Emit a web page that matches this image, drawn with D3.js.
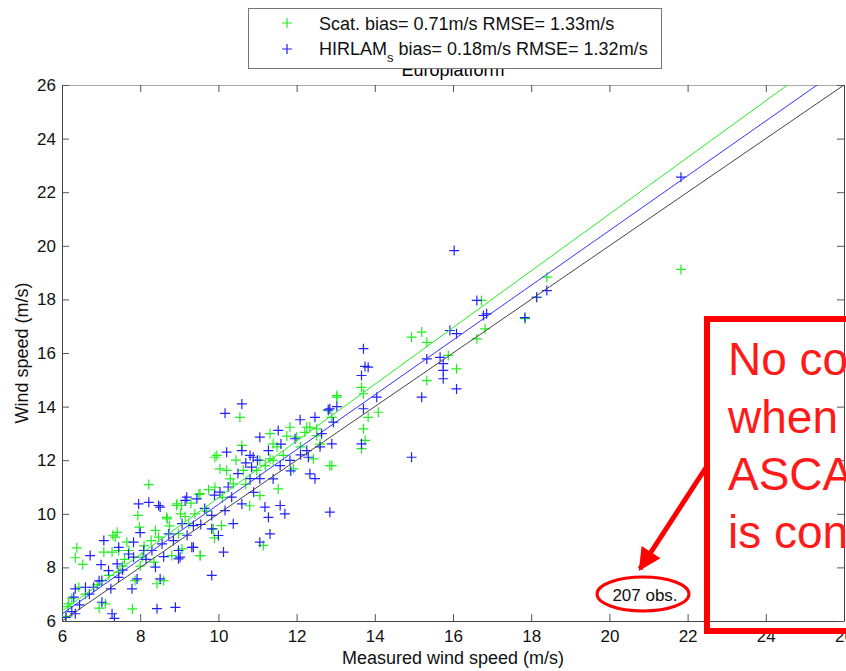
<!DOCTYPE html>
<html>
<head>
<meta charset="utf-8">
<script src="https://cdn.jsdelivr.net/npm/d3@7"></script>
<style>
  body { margin: 0; background: #fff; }
  svg { display: block; font-family: "Liberation Sans", Arial, sans-serif; }
</style>
</head>
<body>
<svg id="chart" width="846" height="671"></svg>
<script>
// data (m/s)
const scatX = [8.22,8.94,9.50,7.94,7.98,7.41,7.36,7.66,8.69,9.03,8.39,8.28,6.38,6.34,6.53,7.07,7.28,7.45,7.71,8.47,
  8.05,8.81,9.07,9.54,9.24,7.45,8.43,7.80,6.43,6.17,7.11,7.87,8.60,8.98,13.03,10.55,12.26,12.51,12.90,11.32,
  11.40,10.60,9.91,11.06,11.32,11.66,11.92,12.43,12.85,10.04,10.21,10.64,10.98,10.38,9.91,9.53,11.06,11.53,9.06,9.40,
  10.08,9.87,11.15,9.53,12.00,16.73,14.94,15.20,15.33,16.82,16.61,17.84,15.88,16.09,15.33,13.03,13.66,13.71,13.83,14.09,
  13.71,13.66,12.90,18.14,21.83,18.40,13.75,12.81,12.34,12.51,12.21,11.83,11.40,8.93,8.68,9.96,6.10,6.15,6.95,
  6.25,6.60,6.90,7.20,7.55,7.60,8.10,8.35,8.75,9.15,9.30,9.70,9.75,10.10,10.30,10.45,10.70,11.20,11.50,11.75,
  12.10,12.60,7.30,8.00,9.90,10.80];
const scatY = [11.09,10.37,10.72,9.94,9.50,9.31,9.13,8.94,9.81,10.00,9.38,9.00,8.73,8.36,8.11,8.57,8.57,8.63,8.63,9.13,
  8.38,8.44,8.69,8.44,9.63,7.82,7.39,6.45,7.26,6.64,6.64,7.51,7.51,9.26,14.41,13.60,13.23,13.17,13.60,12.99,
  12.61,12.55,12.11,11.99,12.05,12.18,11.68,12.05,11.80,11.68,11.62,11.62,11.62,11.12,10.99,10.75,10.68,10.93,10.31,10.00,
  9.56,9.44,8.82,8.44,12.86,17.96,16.59,16.78,16.40,16.90,16.53,17.28,15.91,15.41,14.97,14.35,14.72,14.48,13.60,13.79,
  13.17,12.43,11.80,18.08,19.12,18.83,12.74,13.85,13.23,12.92,13.04,13.23,11.99,10.31,9.87,12.18,6.17,6.54,6.48,
  6.85,7.00,7.35,7.70,8.05,8.30,8.80,8.20,9.55,9.90,10.40,10.10,10.90,10.60,11.30,12.00,11.10,11.80,12.50,12.90,
  12.50,12.60,9.20,8.05,9.10,10.30];

const hirlamX = [7.96,8.22,8.47,9.15,7.07,7.45,7.83,6.72,8.09,7.83,8.30,8.56,8.73,8.98,8.98,9.32,9.07,7.19,7.45,7.92,
  8.39,7.02,6.34,6.60,7.79,6.81,6.30,7.02,7.28,6.34,8.43,8.90,8.51,7.41,10.60,10.17,11.53,12.09,12.47,12.81,
  13.03,12.94,11.06,11.96,10.21,10.60,10.81,11.28,11.58,11.83,12.26,10.85,10.81,11.06,10.04,10.34,10.60,12.34,12.47,11.19,
  11.28,11.70,11.58,12.85,10.17,9.83,10.38,9.83,10.00,9.36,9.19,11.32,11.06,10.13,9.36,9.83,9.02,16.61,16.78,16.86,
  15.92,16.09,13.71,13.75,13.83,13.66,15.33,15.67,15.75,15.75,15.75,16.09,15.20,14.05,13.71,13.66,14.94,12.90,18.40,18.14,
  21.83,17.84,16.03,12.64,10.89,12.30,12.85,8.51,9.45,7.34,6.10,6.25,
  6.45,6.70,6.95,7.25,7.55,7.70,8.15,8.60,8.85,9.20,9.55,9.65,9.90,10.25,10.50,10.70,11.00,11.40,11.85,12.10,
  12.60,7.00,8.00,10.90,11.60];
const hirlamY = [10.37,10.43,10.31,10.50,9.00,8.75,8.94,8.44,8.63,8.38,8.63,8.88,9.25,8.63,8.32,8.75,9.63,7.88,7.63,7.57,
  8.01,7.51,7.20,7.26,7.20,7.26,6.89,6.70,6.27,6.27,6.46,6.51,7.57,8.13,14.10,13.75,13.11,13.51,13.60,13.88,
  14.00,13.42,12.86,12.80,12.30,12.36,12.18,12.36,11.80,11.99,12.36,11.74,11.31,11.31,10.81,10.62,10.37,11.49,11.31,10.25,
  9.87,10.00,10.31,10.06,10.12,9.94,9.63,9.44,9.19,9.56,10.62,9.25,8.94,8.57,8.75,7.70,8.38,17.96,17.40,17.46,
  16.84,16.72,16.16,15.50,15.47,15.16,15.78,15.84,15.60,15.35,15.04,14.66,14.35,14.35,13.92,12.61,12.11,12.61,18.33,18.08,
  22.56,17.32,19.82,12.99,12.11,12.11,13.92,10.25,10.56,6.10,6.13,6.35,
  6.60,7.00,7.50,7.20,7.90,8.50,8.30,8.40,9.00,9.20,9.60,10.20,10.70,11.00,11.50,11.90,12.00,11.30,11.60,12.20,
  12.50,8.10,9.30,10.80,12.60];

// regression lines: scat fit, hirlam fit, 1:1
const lineSlopes = [1.058, 1.022, 1];
const lineIntercepts = [0.02, 0.13, 0];
const lineColors = ["#22ee22", "#3333ff", "#444"];

const xTicks = [6, 8, 10, 12, 14, 16, 18, 20, 22, 24, 26];
const yTicks = [6, 8, 10, 12, 14, 16, 18, 20, 22, 24, 26];
const legendLabels = ["Scat. bias= 0.71m/s RMSE= 1.33m/s", "HIRLAM", " bias= 0.18m/s RMSE= 1.32m/s"];
const noteLines = ["No correction", "when only", "ASCAT", "is considered"];

const green = "#22ee22", blue = "#2222ff", red = "#ff0000";

const svg = d3.select("#chart");
const x = d3.scaleLinear().domain([6, 26]).range([62, 844]);
const y = d3.scaleLinear().domain([6, 26]).range([621, 85]);

svg.append("clipPath").attr("id", "plotclip")
  .append("rect").attr("x", 62).attr("y", 85).attr("width", 782).attr("height", 536);

// title (mostly hidden by legend)
svg.append("text").attr("x", 453).attr("y", 76).attr("text-anchor", "middle")
  .attr("font-size", 18).text("Europlatform");

// axes
const gx = svg.append("g").attr("transform", "translate(0,621)")
  .call(d3.axisBottom(x).tickValues(xTicks).tickSizeInner(-7).tickSizeOuter(0).tickPadding(9));
const gxt = svg.append("g").attr("transform", "translate(0,85)")
  .call(d3.axisTop(x).tickValues(xTicks).tickSizeInner(-7).tickSizeOuter(0).tickFormat(""));
const gy = svg.append("g").attr("transform", "translate(62,0)")
  .call(d3.axisLeft(y).tickValues(yTicks).tickSizeInner(-7).tickSizeOuter(0).tickPadding(6));
const gyr = svg.append("g").attr("transform", "translate(844,0)")
  .call(d3.axisRight(y).tickValues(yTicks).tickSizeInner(-7).tickSizeOuter(0).tickFormat(""));
[gx, gy].forEach(g => g.selectAll("text").attr("font-size", 17).attr("font-family", "Liberation Sans, Arial").attr("fill", "#111"));
[gx, gxt, gy, gyr].forEach(g => { g.selectAll("line").attr("stroke", "#555"); g.select(".domain").attr("stroke", "#444"); });
gxt.select(".domain").attr("stroke", "#aaa");

// axis labels
svg.append("text").attr("x", 453).attr("y", 664).attr("text-anchor", "middle")
  .attr("font-size", 18).attr("fill", "#111").text("Measured wind speed (m/s)");
svg.append("text").attr("transform", "translate(28,353) rotate(-90)").attr("text-anchor", "middle")
  .attr("font-size", 18).attr("fill", "#111").text("Wind speed (m/s)");

const plot = svg.append("g").attr("clip-path", "url(#plotclip)");
const plus = "M-5,0H5M0,-5V5";

plot.selectAll(".scat").data(scatX).join("path").attr("class", "scat")
  .attr("transform", (d, i) => `translate(${x(d)},${y(scatY[i])})`)
  .attr("d", plus).attr("stroke", green).attr("stroke-width", 1.2).attr("fill", "none");
plot.selectAll(".hir").data(hirlamX).join("path").attr("class", "hir")
  .attr("transform", (d, i) => `translate(${x(d)},${y(hirlamY[i])})`)
  .attr("d", plus).attr("stroke", blue).attr("stroke-width", 1.2).attr("fill", "none");

lineSlopes.forEach((a, i) => {
  const b = lineIntercepts[i];
  plot.append("line")
    .attr("x1", x(6)).attr("y1", y(a * 6 + b))
    .attr("x2", x(26)).attr("y2", y(a * 26 + b))
    .attr("stroke", lineColors[i]).attr("stroke-width", 1);
});

// legend
const lg = svg.append("g");
lg.append("rect").attr("x", 248.5).attr("y", 8.5).attr("width", 413).attr("height", 60)
  .attr("fill", "#fff").attr("stroke", "#777");
lg.append("path").attr("transform", "translate(287,23)").attr("d", plus).attr("stroke", green).attr("stroke-width", 1.2);
lg.append("path").attr("transform", "translate(287,49)").attr("d", plus).attr("stroke", blue).attr("stroke-width", 1.2);
lg.append("text").attr("x", 319).attr("y", 30).attr("font-size", 18).attr("fill", "#111").text(legendLabels[0]);
const t2 = lg.append("text").attr("x", 319).attr("y", 55).attr("font-size", 18).attr("fill", "#111");
t2.append("tspan").text(legendLabels[1]);
t2.append("tspan").attr("dy", 7).attr("font-size", 13).text("s");
t2.append("tspan").attr("dy", -7).text(legendLabels[2]);

// annotation
svg.append("text").attr("x", 645).attr("y", 601).attr("text-anchor", "middle")
  .attr("font-size", 17).attr("fill", "#111").text("207 obs.");
svg.append("ellipse").attr("cx", 643).attr("cy", 594).attr("rx", 46).attr("ry", 17)
  .attr("fill", "none").attr("stroke", red).attr("stroke-width", 3);

svg.append("defs").append("marker").attr("id", "arrow").attr("viewBox", "0 0 10 10")
  .attr("refX", 9).attr("refY", 5).attr("markerWidth", 5).attr("markerHeight", 4.5)
  .attr("orient", "auto").attr("markerUnits", "strokeWidth")
  .append("path").attr("d", "M0,0L10,5L0,10Z").attr("fill", red);
svg.append("line").attr("x1", 707).attr("y1", 466).attr("x2", 640).attr("y2", 569)
  .attr("stroke", red).attr("stroke-width", 5).attr("marker-end", "url(#arrow)");

svg.append("rect").attr("x", 707).attr("y", 319).attr("width", 200).attr("height", 312)
  .attr("fill", "none").attr("stroke", red).attr("stroke-width", 6);
svg.append("text").attr("font-size", 46).attr("fill", "#ff1a1a")
  .selectAll("tspan").data(noteLines).join("tspan")
  .attr("x", 728).attr("y", (d, i) => 375 + i * 57.5).text(d => d);
</script>
</body>
</html>
